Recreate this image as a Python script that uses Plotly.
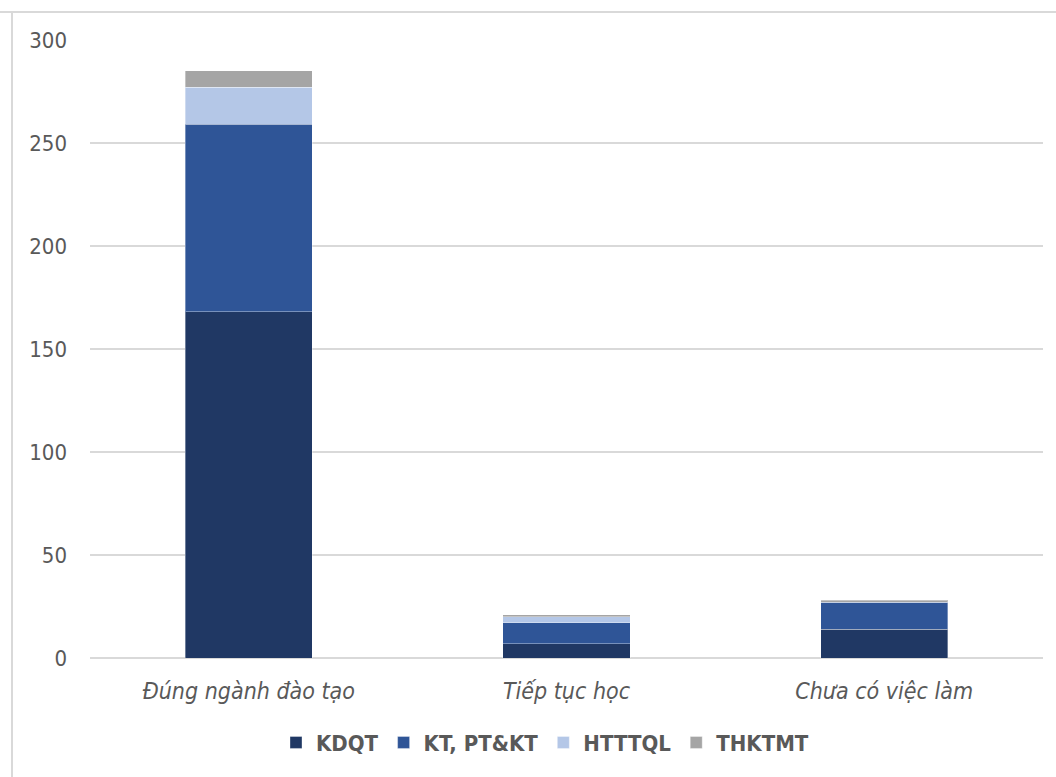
import plotly.graph_objects as go

categories = ["Đúng ngành đào tạo", "Tiếp tục học", "Chưa có việc làm"]
series_names = ["KDQT", "KT, PT&KT", "HTTTQL", "THKTMT"]
kdqt = [168, 7, 14]
kt_pt_kt = [91, 10, 13]
htttql = [18, 3, 0]
thktmt = [8, 1, 1]
y_ticks = [0, 50, 100, 150, 200, 250, 300]

series_values = [kdqt, kt_pt_kt, htttql, thktmt]
colors = ["#203864", "#2F5597", "#B4C7E7", "#A5A5A5"]

font_family = "DejaVu Sans Condensed, DejaVu Sans, sans-serif"
text_color = "#595959"

fig = go.Figure()
for name, vals, col in zip(series_names, series_values, colors):
    fig.add_trace(go.Bar(
        x=categories,
        y=vals,
        name=name,
        marker=dict(color=col, line=dict(color="rgba(255,255,255,0.35)", width=1)),
    ))

fig.update_layout(
    barmode="stack",
    bargap=0.6,
    width=1056,
    height=777,
    margin=dict(l=90, r=13, t=40, b=119),
    paper_bgcolor="white",
    plot_bgcolor="white",
    font=dict(family=font_family, color=text_color),
    showlegend=True,
    legend=dict(
        orientation="h",
        x=(545 - 90) / 953,
        xanchor="center",
        y=-0.103,
        yanchor="top",
        font=dict(size=22, color=text_color, weight="bold"),
        traceorder="normal",
        itemwidth=30,
    ),
    xaxis=dict(
        type="category",
        showgrid=False,
        showline=False,
        ticks="",
        tickfont=dict(size=23, style="italic", color=text_color),
        ticklabelstandoff=17,
    ),
    yaxis=dict(
        range=[0, 300],
        tickvals=y_ticks,
        showgrid=True,
        gridcolor="#D9D9D9",
        gridwidth=1.5,
        zeroline=True,
        zerolinecolor="#D9D9D9",
        zerolinewidth=1.5,
        showline=False,
        ticks="",
        tickfont=dict(size=22, color=text_color),
        ticklabelstandoff=22,
    ),
    shapes=[
        dict(type="line", xref="paper", yref="paper", x0=-90/953, x1=1.02,
             y0=1 + 28/618, y1=1 + 28/618, line=dict(color="#D9D9D9", width=2)),
        dict(type="line", xref="paper", yref="paper", x0=-78/953, x1=-78/953,
             y0=1 + 28/618, y1=-0.2, line=dict(color="#D9D9D9", width=2)),
    ],
)

fig.write_html("out.html")
